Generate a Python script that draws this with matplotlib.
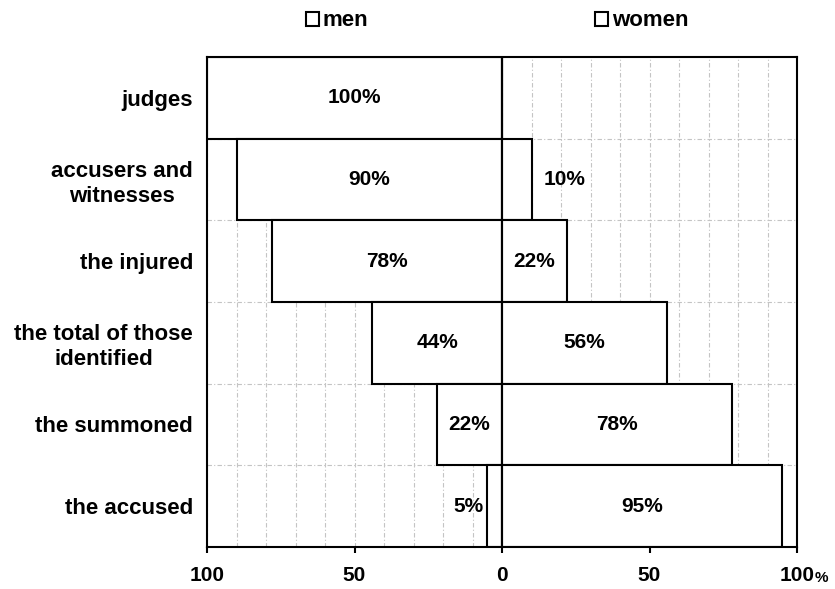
import matplotlib
matplotlib.use("Agg")
import matplotlib.pyplot as plt
import numpy as np
from matplotlib.patches import Patch
from matplotlib.ticker import FixedLocator, MultipleLocator

plt.rcParams['font.family'] = ['Liberation Sans', 'DejaVu Sans']
plt.rcParams['font.weight'] = 'bold'

categories = ['judges', 'accusers and\nwitnesses', 'the injured',
              'the total of those\nidentified', 'the summoned', 'the accused']
men = [100, 90, 78, 44, 22, 5]
women = [0, 10, 22, 56, 78, 95]
tick_values = [-100, -50, 0, 50, 100]
tick_labels = ['100', '50', '0', '50', '100']

FS = 15
y = np.arange(len(categories))

fig = plt.figure(figsize=(8.35, 5.89), dpi=100)
ax = fig.add_axes([207/835, 42/589, 590/835, 490/589])

bar_style = dict(height=1.0, color='white', edgecolor='black', linewidth=1.5, zorder=2)
ax.barh(y, [-v for v in men], **bar_style)
ax.barh(y, women, **bar_style)
ax.axvline(0, color='black', linewidth=1.5, zorder=3)

# value labels: centred in wide bars, just outside the narrow ones
for yi, v in zip(y, men):
    if v >= 15:
        ax.text(-v / 2, yi, f'{v}%', ha='center', va='center', fontsize=FS, zorder=4)
    elif v > 0:
        ax.annotate(f'{v}%', (-v, yi), xytext=(-3, 0), textcoords='offset points',
                    ha='right', va='center', fontsize=FS, zorder=4)
for yi, v in zip(y, women):
    if v >= 15:
        ax.text(v / 2, yi, f'{v}%', ha='center', va='center', fontsize=FS, zorder=4)
    elif v > 0:
        ax.annotate(f'{v}%', (v, yi), xytext=(9, 0), textcoords='offset points',
                    ha='left', va='center', fontsize=FS, zorder=4)

ax.set_xlim(-100, 100)
ax.set_ylim(len(categories) - 0.5, -0.5)

ax.set_xticks(tick_values)
ax.set_xticklabels(tick_labels)
ax.xaxis.set_minor_locator(MultipleLocator(10))
ax.set_yticks(y)
ax.set_yticklabels(categories)
ax.yaxis.set_minor_locator(FixedLocator(y[:-1] + 0.5))

ax.tick_params(axis='x', which='major', direction='out', length=4.5, width=1.5,
               pad=9, labelsize=FS)
ax.tick_params(axis='y', which='major', length=0, pad=10, labelsize=16)
ax.tick_params(which='minor', length=0)
for lbl in ax.get_yticklabels():
    lbl.set_multialignment('center')
    lbl.set_linespacing(1.25)

ax.set_axisbelow(True)
grid_style = dict(color='#c4c4c4', linestyle=(0, (4, 2, 1, 2)), linewidth=0.8)
ax.grid(True, which='both', axis='x', **grid_style)
ax.grid(True, which='minor', axis='y', **grid_style)

for spine in ax.spines.values():
    spine.set_linewidth(1.5)
    spine.set_color('black')

# small percent sign after the last tick label
ax.annotate('%', xy=(1, 0), xycoords='axes fraction', xytext=(13, -25.5),
            textcoords='offset points', ha='left', va='baseline', fontsize=11)

handles = [Patch(facecolor='white', edgecolor='black', linewidth=1.5),
           Patch(facecolor='white', edgecolor='black', linewidth=1.5)]
fig.legend(handles, ['men', 'women'], ncol=2, loc='center left',
           bbox_to_anchor=(306/835, 1 - 21/589), frameon=False, fontsize=16,
           handlelength=0.6, handleheight=0.6, handletextpad=0.15,
           columnspacing=10.2, borderpad=0, borderaxespad=0)

fig.savefig('out.png', dpi=100, facecolor='white')
